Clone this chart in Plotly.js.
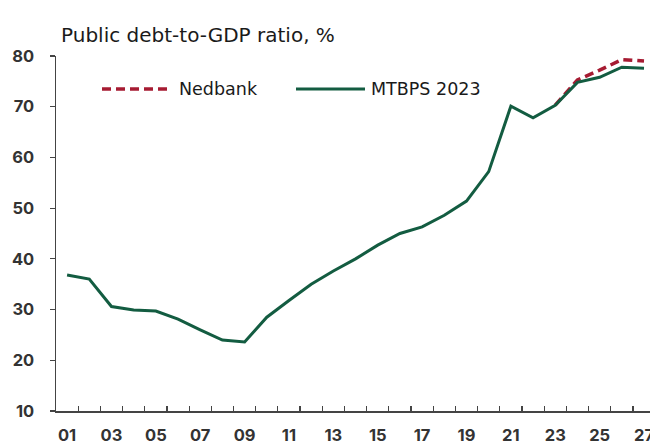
<!DOCTYPE html>
<html>
<head>
<meta charset="utf-8">
<script src="https://cdn.plot.ly/plotly-3.0.1.min.js"></script>
<style>html,body{margin:0;padding:0;background:#fff;}#chart{width:650px;height:441px;}</style>
</head>
<body>
<div id="chart"></div>
<script>
// Data
const years = [2001,2002,2003,2004,2005,2006,2007,2008,2009,2010,2011,2012,2013,2014,2015,2016,2017,2018,2019,2020,2021,2022,2023,2024,2025,2026,2027];
const mtbps = [36.8,36.0,30.6,29.9,29.7,28.1,26.0,24.0,23.6,28.5,31.8,35.0,37.6,40.0,42.7,45.0,46.3,48.6,51.4,57.2,70.1,67.8,70.3,74.8,75.8,77.8,77.6];
const nedYears = [2023,2024,2025,2026,2027];
const nedbank = [70.3,75.3,77.2,79.3,79.0];
const tickYears = [2001,2003,2005,2007,2009,2011,2013,2015,2017,2019,2021,2023,2025,2027];
const tickLabels = ['01','03','05','07','09','11','13','15','17','19','21','23','25','27'];
const seriesNames = ['Nedbank','MTBPS 2023'];

const green = '#135c41';
const red = '#a61b32';
const FONT = 'Inter, "DejaVu Sans", sans-serif';
const TFONT = '"DejaVu Sans", sans-serif';

const traces = [
  {x: nedYears, y: nedbank, type: 'scatter', mode: 'lines', name: seriesNames[0],
   line: {color: red, width: 3.5, dash: '9px,5px'}, hoverinfo: 'skip'},
  {x: years, y: mtbps, type: 'scatter', mode: 'lines', name: seriesNames[1],
   line: {color: green, width: 3}, hoverinfo: 'skip'}
];

const xr = [2000.5, 2027.27];
const layout = {
  width: 650, height: 441,
  margin: {l: 56, r: 0, t: 56, b: 30},
  paper_bgcolor: '#fff', plot_bgcolor: '#fff',
  showlegend: false,
  font: {family: FONT, color: '#333'},
  title: {text: 'Public debt-to-GDP ratio, %', x: 61/650, xanchor: 'left', xref: 'container',
          y: 1 - 35/441, yref: 'container', yanchor: 'middle',
          font: {family: TFONT, size: 20, color: '#1a1a1a'}},
  xaxis: {range: xr, tickmode: 'array', tickvals: tickYears, ticktext: tickLabels,
          ticks: '', showgrid: false, zeroline: false, showline: true, linecolor: '#444', linewidth: 1.5,
          ticklabeloverflow: 'allow',
          tickfont: {family: FONT, size: 16.5, color: '#333', weight: 700}, ticklabelstandoff: 9},
  xaxis2: {range: xr, overlaying: 'x', anchor: 'y', side: 'bottom', tickmode: 'linear', tick0: 2000.5, dtick: 1,
           ticks: 'inside', ticklen: 5, tickwidth: 1.2, tickcolor: '#444', showticklabels: false,
           showgrid: false, zeroline: false, showline: false},
  yaxis: {range: [10, 80], tickmode: 'linear', tick0: 10, dtick: 10, ticks: 'outside', ticklen: 5,
          tickwidth: 1.2, tickcolor: '#444', showgrid: false, zeroline: false, showline: true,
          linecolor: '#444', linewidth: 1.5, ticklabelstandoff: 12,
          tickfont: {family: FONT, size: 16.5, color: '#333', weight: 700}},
  shapes: [
    {type: 'line', xref: 'paper', yref: 'paper', x0: (102-56)/594, x1: (172-56)/594, y0: (411-89)/355, y1: (411-89)/355,
     line: {color: red, width: 3.5, dash: '9px,5px'}},
    {type: 'line', xref: 'paper', yref: 'paper', x0: (296-56)/594, x1: (365-56)/594, y0: (411-89)/355, y1: (411-89)/355,
     line: {color: green, width: 3}}
  ],
  annotations: [
    {text: seriesNames[0], xref: 'paper', yref: 'paper', x: (177-56)/594, y: (411-89)/355, xanchor: 'left', yanchor: 'middle',
     showarrow: false, font: {family: TFONT, size: 17.5, color: '#1a1a1a'}},
    {text: seriesNames[1], xref: 'paper', yref: 'paper', x: (369-56)/594, y: (411-89)/355, xanchor: 'left', yanchor: 'middle',
     showarrow: false, font: {family: TFONT, size: 17.5, color: '#1a1a1a'}}
  ]
};

// empty trace to activate xaxis2 for the category-boundary ticks
traces.push({x: [], y: [], xaxis: 'x2', yaxis: 'y', type: 'scatter', mode: 'lines', hoverinfo: 'skip', showlegend: false});

Plotly.newPlot('chart', traces, layout, {staticPlot: true, displayModeBar: false});
</script>
</body>
</html>
